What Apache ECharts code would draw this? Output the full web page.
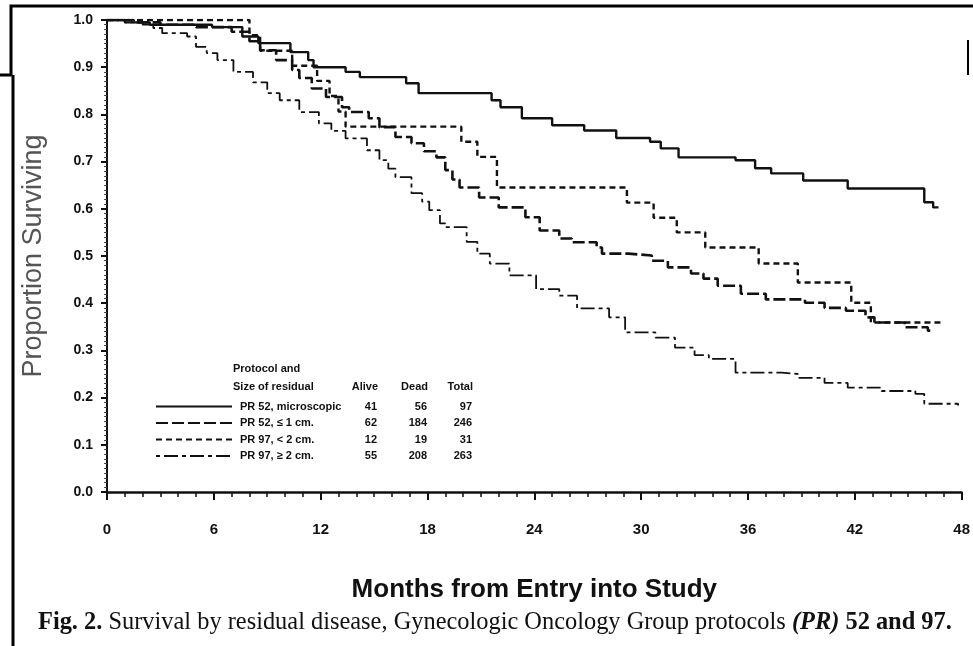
<!DOCTYPE html>
<html>
<head>
<meta charset="utf-8">
<script src="https://cdn.jsdelivr.net/npm/echarts@6/dist/echarts.min.js"></script>
<style>
  html, body { margin: 0; padding: 0; background: #fff; }
  #main { width: 973px; height: 646px; }
</style>
</head>
<body>
<div id="main"></div>
<script>
// survival curves: [month, proportion surviving]
var pr52Micro = [[0, 1.0], [1.0, 0.995], [2.4, 0.99], [5.9, 0.985], [7.6, 0.965], [8.5, 0.951], [10.3, 0.932],
    [11.3, 0.915], [11.6, 0.9], [13.4, 0.89], [14.2, 0.879], [16.8, 0.866], [17.5, 0.845], [21.6, 0.83],
    [22.1, 0.815], [23.3, 0.792], [25.0, 0.777], [26.8, 0.766], [28.6, 0.75], [30.5, 0.742], [31.1, 0.728],
    [32.1, 0.709], [35.3, 0.703], [36.4, 0.686], [37.3, 0.675], [39.1, 0.66], [41.6, 0.643], [45.9, 0.614],
    [46.4, 0.603], [46.7, 0.603]];
var pr52Le1 = [[0, 1.0], [1.5, 0.995], [3, 0.99], [5, 0.985], [7, 0.975], [8.0, 0.955], [8.6, 0.936], [9.5, 0.915],
    [10.4, 0.894], [10.8, 0.877], [11.5, 0.855], [12.3, 0.837], [13.2, 0.815], [13.6, 0.805], [14.7, 0.792],
    [15.3, 0.773], [16.2, 0.752], [17.1, 0.739], [17.8, 0.722], [18.5, 0.709], [19.0, 0.682], [19.4, 0.662],
    [19.8, 0.645], [20.9, 0.624], [22.0, 0.603], [23.5, 0.582], [24.3, 0.554], [25.4, 0.537], [26.1, 0.529],
    [27.5, 0.518], [27.8, 0.505], [29.3, 0.501], [30.6, 0.49], [31.5, 0.476], [32.8, 0.463], [33.5, 0.452],
    [34.3, 0.437], [35.6, 0.42], [37.0, 0.408], [39.2, 0.401], [40.3, 0.39], [41.5, 0.384], [42.6, 0.37],
    [43.1, 0.359], [44.8, 0.349], [46.1, 0.342], [46.3, 0.342]];
var pr97Lt2 = [[0, 1.0], [8.0, 0.968], [8.6, 0.935], [10.4, 0.903], [11.8, 0.871], [12.5, 0.839], [13.0, 0.806],
    [13.4, 0.774], [19.9, 0.742], [20.8, 0.71], [21.9, 0.645], [29.2, 0.613], [30.7, 0.581], [32.0, 0.55],
    [33.6, 0.518], [36.6, 0.484], [38.8, 0.444], [41.8, 0.401], [42.9, 0.359], [47.0, 0.359]];
var pr97Ge2 = [[0, 1.0], [1, 0.995], [2, 0.99], [2.6, 0.983], [3.1, 0.972], [4.5, 0.965], [5.0, 0.943], [5.6, 0.93],
    [6.2, 0.915], [7.1, 0.89], [8.2, 0.868], [9.0, 0.845], [9.7, 0.83], [10.8, 0.805], [11.9, 0.781],
    [12.6, 0.765], [13.4, 0.749], [14.6, 0.724], [15.3, 0.703], [15.8, 0.685], [16.2, 0.667], [17.1, 0.633],
    [17.7, 0.615], [18.1, 0.597], [18.7, 0.569], [19.0, 0.561], [20.2, 0.53], [20.8, 0.505], [21.5, 0.484],
    [22.6, 0.459], [24.1, 0.43], [25.4, 0.416], [26.4, 0.389], [28.2, 0.37], [29.1, 0.338], [30.8, 0.327],
    [31.9, 0.306], [33.0, 0.29], [33.8, 0.282], [35.3, 0.253], [37.9, 0.25], [38.8, 0.242], [40.3, 0.231],
    [41.6, 0.221], [43.5, 0.214], [45.4, 0.208], [45.9, 0.187], [47.8, 0.183]];

var groupNames = ['PR 52, microscopic', 'PR 52, \u2264 1 cm.', 'PR 97, < 2 cm.', 'PR 97, \u2265 2 cm.'];
var alive = [41, 62, 12, 55];
var dead = [56, 184, 19, 208];
var total = [97, 246, 31, 263];

var curves = [pr52Micro, pr52Le1, pr97Lt2, pr97Ge2];
var dashes = ['solid', [12, 4], [6, 4], [4, 4, 14, 4]];
var widths = [2.4, 2.6, 2.4, 1.8];

var ink = '#111';
var sansBold = { fontFamily: 'Liberation Sans', fontWeight: 'bold' };

var myChart = echarts.init(document.getElementById('main'));

var series = [];
for (var i = 0; i < curves.length; i++) {
    series.push({
        name: groupNames[i],
        type: 'line',
        step: 'end',
        symbol: 'none',
        data: curves[i],
        lineStyle: { color: ink, width: widths[i], type: dashes[i] },
        itemStyle: { color: ink }
    });
}

option = {
    backgroundColor: '#fff',
    animation: false,
    grid: { left: 107, right: 10, top: 20, bottom: 154 },
    xAxis: {
        type: 'value',
        min: 0,
        max: 48,
        interval: 6,
        name: 'Months from Entry into Study',
        nameLocation: 'middle',
        nameGap: 85,
        nameTextStyle: { fontFamily: 'Liberation Sans', fontSize: 26, fontWeight: 'bold', color: ink },
        axisLine: { lineStyle: { color: ink, width: 2.5 } },
        axisTick: { length: 8, lineStyle: { color: ink, width: 2 } },
        minorTick: { show: true, splitNumber: 6, length: 5, lineStyle: { color: ink, width: 1.5 } },
        axisLabel: { margin: 30, fontSize: 15, color: ink, fontFamily: 'Liberation Sans', fontWeight: 'bold' },
        splitLine: { show: false }
    },
    yAxis: {
        type: 'value',
        min: 0,
        max: 1,
        interval: 0.1,
        name: 'Proportion Surviving',
        nameLocation: 'middle',
        nameGap: 60,
        nameTextStyle: { fontFamily: 'Liberation Sans', fontSize: 27, color: '#555' },
        axisLine: { lineStyle: { color: ink, width: 2 } },
        axisTick: { length: 6, lineStyle: { color: ink, width: 2 } },
        minorTick: { show: true, splitNumber: 10, length: 3, lineStyle: { color: '#444', width: 1 } },
        axisLabel: {
            margin: 14, fontSize: 14, color: ink, fontFamily: 'Liberation Sans', fontWeight: 'bold',
            formatter: function (v) { return v.toFixed(1); }
        },
        splitLine: { show: false }
    },
    legend: {
        orient: 'vertical',
        left: 150,
        top: 396,
        itemWidth: 76,
        itemHeight: 1,
        itemGap: 5.5,
        itemStyle: { opacity: 0 },
        data: groupNames,
        formatter: function (name) {
            var k = groupNames.indexOf(name);
            return '{n|' + name + '}{a|' + alive[k] + '}{d|' + dead[k] + '}{t|' + total[k] + '}';
        },
        textStyle: {
            color: ink,
            padding: [0, 0, 0, 3],
            rich: {
                n: { width: 112, fontSize: 11, fontFamily: 'Liberation Sans', fontWeight: 'bold', color: ink },
                a: { width: 25, align: 'right', fontSize: 11, fontFamily: 'Liberation Sans', fontWeight: 'bold', color: ink },
                d: { width: 50, align: 'right', fontSize: 11, fontFamily: 'Liberation Sans', fontWeight: 'bold', color: ink },
                t: { width: 45, align: 'right', fontSize: 11, fontFamily: 'Liberation Sans', fontWeight: 'bold', color: ink }
            }
        }
    },
    graphic: [
        { type: 'text', left: 233, top: 363, style: Object.assign({ text: 'Protocol and', fontSize: 11, fill: ink }, sansBold) },
        { type: 'text', left: 233, top: 381, style: Object.assign({ text: 'Size of residual', fontSize: 11, fill: ink }, sansBold) },
        { type: 'text', right: 973 - 378, top: 381, style: Object.assign({ text: 'Alive', fontSize: 11, fill: ink }, sansBold) },
        { type: 'text', right: 973 - 428, top: 381, style: Object.assign({ text: 'Dead', fontSize: 11, fill: ink }, sansBold) },
        { type: 'text', right: 973 - 473, top: 381, style: Object.assign({ text: 'Total', fontSize: 11, fill: ink }, sansBold) },
        {
            type: 'text', left: 38, top: 611,
            style: {
                text: '{b|Fig. 2.}{r| Survival by residual disease, Gynecologic Oncology Group protocols }{i|(PR)}{b| 52 and 97.}',
                rich: {
                    b: { fontFamily: 'Liberation Serif', fontSize: 24.4, fontWeight: 'bold', fill: ink },
                    r: { fontFamily: 'Liberation Serif', fontSize: 24.4, fill: ink },
                    i: { fontFamily: 'Liberation Serif', fontSize: 24.4, fontWeight: 'bold', fontStyle: 'italic', fill: ink }
                }
            }
        },
        // scanned page frame
        { type: 'polyline', shape: { points: [[973, 6], [11, 6], [11, 75], [0, 75]] }, style: { stroke: '#000', lineWidth: 3, fill: null } },
        { type: 'line', shape: { x1: 13, y1: 75, x2: 13, y2: 646 }, style: { stroke: '#000', lineWidth: 3 } },
        { type: 'line', shape: { x1: 968, y1: 40, x2: 968, y2: 75 }, style: { stroke: '#000', lineWidth: 2 } }
    ],
    series: series
};
myChart.setOption(option);
</script>
</body>
</html>
